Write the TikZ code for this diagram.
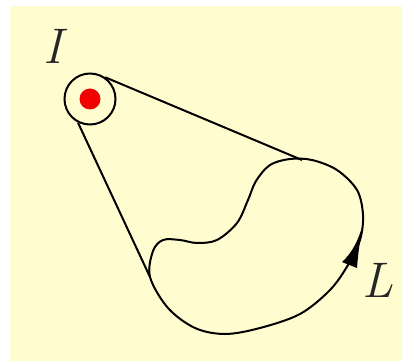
\documentclass[tikz,border=0pt]{standalone}
\usetikzlibrary{calc}
\definecolor{bgyellow}{RGB}{255,253,208}
\definecolor{dotred}{RGB}{240,0,0}
\begin{document}
\begin{tikzpicture}[x=1pt,y=-1pt,
  curveline/.style={line width=2pt,black},
  lbl/.style={font=\fontsize{50}{50}\selectfont\itshape, text=black!85, inner sep=0pt}]
\useasboundingbox (0,0) rectangle (402,361);
\fill[bgyellow] (10,6) rectangle (402,361);
% small circle with red dot
\node[circle, draw, line width=2pt, minimum size=51pt, inner sep=0pt] (c) at (90,99) {};
\fill[dotred] (c.center) circle (10.5);
% contour L
\draw[curveline]
  plot[smooth cycle, tension=0.55] coordinates {
  (150,277) (168,308) (195,328) (225,334) (260,328) (300,314) (330,290)
  (348,265) (360,240) (363,215) (357,190) (337,170) (312,160) (290,159)
  (270,165) (256,181) (248,200) (237,223) (217,240) (197,243) (180,240)
  (163,240) (153,251)};
% arrowhead on the contour
\fill[black] (362.5,226) .. controls (358,240) and (353,252) .. (342,262)
  -- (357,268) .. controls (358,254) and (360,240) .. cycle;
\coordinate (p1) at (302,160);
\coordinate (p2) at (150,277);
\draw[curveline] (c.55) -- (p1);
\draw[curveline] (c.243) -- (p2);
\node[lbl] (I) at (53,46) {I};
\node[lbl] (L) at (378,280) {L};
\end{tikzpicture}
\end{document}
